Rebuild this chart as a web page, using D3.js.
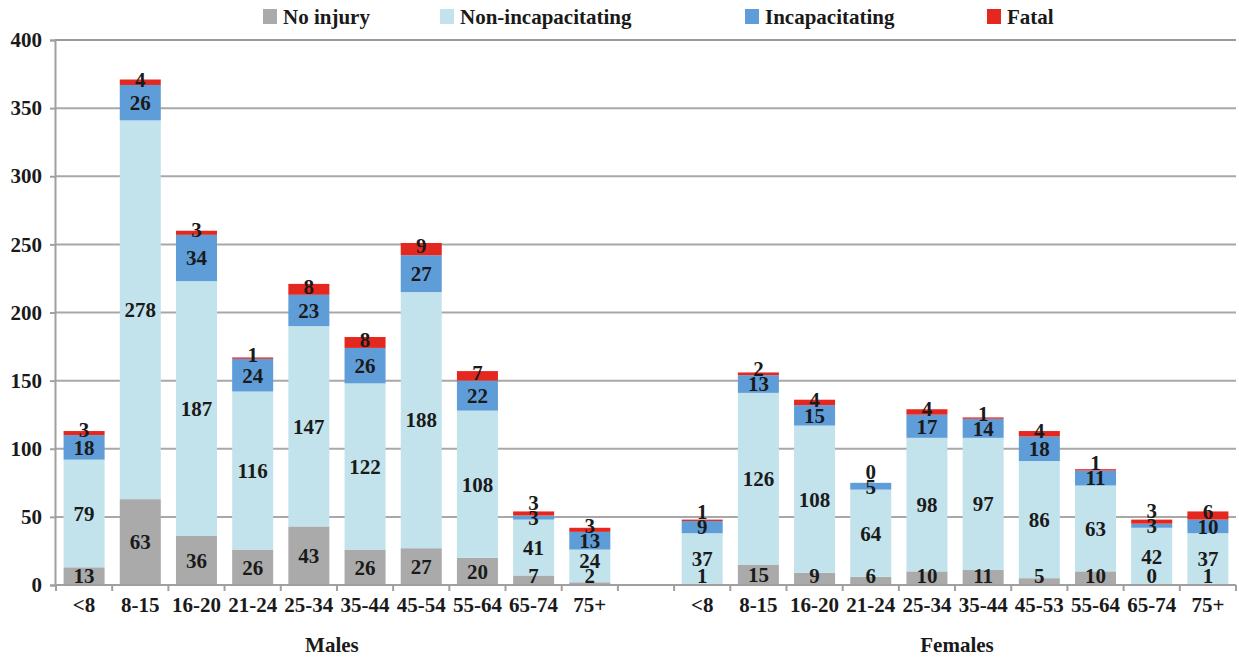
<!DOCTYPE html>
<html><head><meta charset="utf-8">
<script src="https://cdn.jsdelivr.net/npm/d3@7/dist/d3.min.js"></script>
<style>
body{margin:0;background:#fff;}
text{font-family:"Liberation Serif","Times New Roman",serif;font-weight:bold;fill:#1a1a1a;}
</style></head>
<body><svg id="c" width="1239" height="658"></svg>
<script>
const ageGroupsMales = ["<8","8-15","16-20","21-24","25-34","35-44","45-54","55-64","65-74","75+"];
const ageGroupsFemales = ["<8","8-15","16-20","21-24","25-34","35-44","45-53","55-64","65-74","75+"];
const seriesNames = ["No injury","Non-incapacitating","Incapacitating","Fatal"];
const seriesColors = ["#aaaaaa","#c2e3ec","#5f9dd8","#e5281f"];
const malesNoInjury = [13,63,36,26,43,26,27,20,7,2];
const malesNonIncap = [79,278,187,116,147,122,188,108,41,24];
const malesIncap    = [18,26,34,24,23,26,27,22,3,13];
const malesFatal    = [3,4,3,1,8,8,9,7,3,3];
const femalesNoInjury = [1,15,9,6,10,11,5,10,0,1];
const femalesNonIncap = [37,126,108,64,98,97,86,63,42,37];
const femalesIncap    = [9,13,15,5,17,14,18,11,3,10];
const femalesFatal    = [1,2,4,0,4,1,4,1,3,6];
const yTicks = [0,50,100,150,200,250,300,350,400];
const groupLabels = ["Males","Females"];

const rows = [];
ageGroupsMales.forEach((a,i)=>rows.push({key:"M"+i,label:a,vals:[malesNoInjury[i],malesNonIncap[i],malesIncap[i],malesFatal[i]]}));
const gapKey = "gap";
ageGroupsFemales.forEach((a,i)=>rows.push({key:"F"+i,label:a,vals:[femalesNoInjury[i],femalesNonIncap[i],femalesIncap[i],femalesFatal[i]]}));
const domain = rows.slice(0,10).map(r=>r.key).concat([gapKey]).concat(rows.slice(10).map(r=>r.key));

const svg = d3.select("#c");
const L=55, R=1236, T=40, B=585;
const x = d3.scaleBand().domain(domain).range([L+1,R]).paddingInner(0.27).paddingOuter(0.135);
const y = d3.scaleLinear().domain([0,400]).range([B,T]);
const step = x.step();

// gridlines
svg.append("g").selectAll("line").data(yTicks.filter(d=>d>0)).join("line")
  .attr("x1",L).attr("x2",R).attr("y1",d=>y(d)).attr("y2",d=>y(d))
  .attr("stroke",d=>d===400?"#9a9a9a":"#a8a8a8").attr("stroke-width",2);

// y axis
const yAxis = d3.axisLeft(y).tickValues(yTicks).tickSize(5).tickPadding(8);
const gy = svg.append("g").attr("transform",`translate(${L},0)`).call(yAxis);
gy.select(".domain").attr("stroke","#a0a0a0").attr("stroke-width",2);
gy.selectAll(".tick line").attr("stroke","#a0a0a0").attr("stroke-width",2);
gy.selectAll(".tick text").attr("font-size",21).attr("font-family","Liberation Serif").attr("font-weight","bold").attr("fill","#1a1a1a");

// stacks
const stack = d3.stack().keys([0,1,2,3]).value((r,k)=>r.vals[k]);
const series = stack(rows);
const gBars = svg.append("g");
series.forEach((s,si)=>{
  gBars.append("g").attr("fill",seriesColors[si]).selectAll("rect").data(s).join("rect")
    .attr("x",d=>x(d.data.key)).attr("width",x.bandwidth())
    .attr("y",d=>y(d[1])).attr("height",d=>y(d[0])-y(d[1]));
});

// x axis
svg.append("line").attr("x1",L).attr("x2",R).attr("y1",B).attr("y2",B).attr("stroke","#a0a0a0").attr("stroke-width",2);
const bounds = d3.range(domain.length+1).map(i=>L+1+i*step);
svg.append("g").selectAll("line").data(bounds).join("line")
  .attr("x1",d=>d).attr("x2",d=>d).attr("y1",B).attr("y2",B+6).attr("stroke","#a0a0a0").attr("stroke-width",2);

// category labels
svg.append("g").selectAll("text").data(rows).join("text")
  .attr("x",d=>x(d.key)+x.bandwidth()/2).attr("y",612).attr("text-anchor","middle").attr("font-size",21)
  .text(d=>d.label);

// group labels
const mid = (a,b)=> (x(a)+x(b)+x.bandwidth())/2;
svg.append("text").attr("x",mid("M0","M9")-5).attr("y",652).attr("text-anchor","middle").attr("font-size",21).text(groupLabels[0]);
svg.append("text").attr("x",mid("F0","F9")+2).attr("y",652).attr("text-anchor","middle").attr("font-size",21).text(groupLabels[1]);

// value labels with simple collision avoidance
const gLab = svg.append("g");
rows.forEach((r,ri)=>{
  let prev = Infinity;
  r.vals.forEach((v,si)=>{
    const s = series[si][ri];
    let cy = y((s[0]+s[1])/2);
    if (si===3) cy -= 3;
    cy = Math.min(cy, B-9);
    cy = Math.min(cy, prev-15);
    prev = cy;
    gLab.append("text").attr("x",x(r.key)+x.bandwidth()/2).attr("y",cy).attr("dy","0.35em")
      .attr("text-anchor","middle").attr("font-size",21).text(v);
  });
});

// legend
const legX = [263,440,745,987];
const lg = svg.append("g");
seriesNames.forEach((n,i)=>{
  lg.append("rect").attr("x",legX[i]).attr("y",9).attr("width",14).attr("height",15).attr("fill",seriesColors[i]);
  lg.append("text").attr("x",legX[i]+20).attr("y",24).attr("font-size",21).text(n);
});
</script></body></html>
